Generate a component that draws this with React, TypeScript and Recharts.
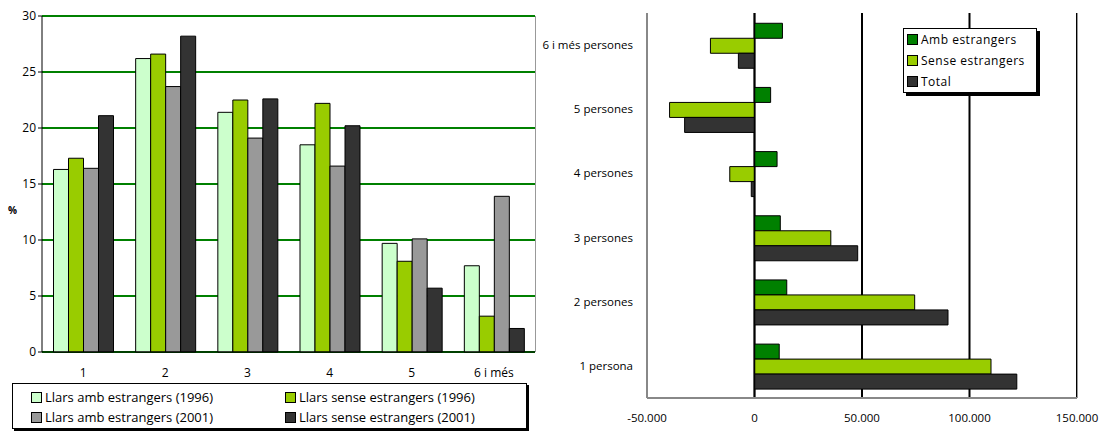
import React from "react";
import { BarChart, Bar, XAxis, YAxis, CartesianGrid, ReferenceLine } from "recharts";

const cats = ["1", "2", "3", "4", "5", "6 i més"];
const amb1996 = [16.3, 26.2, 21.4, 18.5, 9.7, 7.7];
const sense1996 = [17.3, 26.6, 22.5, 22.2, 8.1, 3.2];
const amb2001 = [16.4, 23.7, 19.1, 16.6, 10.1, 13.9];
const sense2001 = [21.1, 28.2, 22.6, 20.2, 5.7, 2.1];
const leftTicks = [0, 5, 10, 15, 20, 25, 30];

const persCats = ["6 i més persones", "5 persones", "4 persones", "3 persones", "2 persones", "1 persona"];
const ambEst = [13000, 7500, 10500, 12000, 15000, 11500];
const senseEst = [-20500, -39500, -11500, 35500, 74500, 110000];
const total = [-7500, -32500, -1500, 48000, 90000, 122000];
const rightTicks = [-50000, 0, 50000, 100000, 150000];

const leftData = cats.map((c, i) => ({ c, a: amb1996[i], b: sense1996[i], d: amb2001[i], e: sense2001[i] }));
const rightData = persCats.map((c, i) => ({ c, a: ambEst[i], s: senseEst[i], t: total[i] }));

const font = "'Open Sans', 'DejaVu Sans', sans-serif";
const fmt = (v: number) => v.toLocaleString("de-DE");
const tick = { fill: "#000", fontSize: 12, fontFamily: font };

const CatTick = (props: any) => {
  const { x, y, payload } = props;
  return (
    <text x={x} y={y} dy={4} textAnchor="end" fill="#000" fontSize={11.5} fontFamily={font}>
      {payload.value}
    </text>
  );
};

const Sw = ({ c }: { c: string }) => (
  <span style={{ display: "inline-block", width: 9, height: 9, background: c, border: "1px solid #000", marginRight: 3, verticalAlign: "-1px" }} />
);

export default function App() {
  return (
    <div style={{ position: "absolute", left: 0, top: 0, width: 1104, height: 432, background: "#fff", fontFamily: font }}>
      <div style={{ position: "absolute", left: 530, top: 0 }}>
        <BarChart layout="vertical" width={574} height={432} data={rightData} margin={{ top: 13, right: 27, left: 0, bottom: 0 }} barGap={0} barCategoryGap="16%">
          <CartesianGrid horizontal={false} stroke="#000" strokeWidth={2} />
          <XAxis type="number" domain={[-50000, 150000]} ticks={rightTicks} tickFormatter={fmt} height={34} tick={{ ...tick, fontSize: 11.5 }} tickLine={false} axisLine={{ stroke: "#888", strokeWidth: 2 }} tickMargin={10} />
          <YAxis type="category" dataKey="c" width={117} tick={<CatTick />} tickLine={false} axisLine={{ stroke: "#888", strokeWidth: 2 }} tickMargin={8} />
          <ReferenceLine x={0} stroke="#000" strokeWidth={1.5} />
          <Bar dataKey="a" fill="#008000" stroke="#000" isAnimationActive={false} />
          <Bar dataKey="s" fill="#99cc00" stroke="#000" isAnimationActive={false} />
          <Bar dataKey="t" fill="#333333" stroke="#000" isAnimationActive={false} />
        </BarChart>
        <div style={{ position: "absolute", left: 547, top: 13, width: 1, height: 385, background: "#999" }} />
        <div style={{ position: "absolute", left: 373, top: 28, width: 134, height: 65, background: "#fff", border: "1px solid #000", boxShadow: "3px 3px 0 #000", fontSize: 12, boxSizing: "border-box", letterSpacing: 0.5 }}>
          <div style={{ position: "absolute", left: 3, top: 2 }}><Sw c="#008000" />Amb estrangers</div>
          <div style={{ position: "absolute", left: 3, top: 23 }}><Sw c="#99cc00" />Sense estrangers</div>
          <div style={{ position: "absolute", left: 3, top: 44 }}><Sw c="#333333" />Total</div>
        </div>
      </div>
      <div style={{ position: "absolute", left: 0, top: 0 }}>
        <BarChart width={545} height={380} data={leftData} margin={{ top: 16, right: 10, left: 0, bottom: 0 }} barGap={0} barCategoryGap="14%">
          <CartesianGrid vertical={false} stroke="#008000" strokeWidth={2} />
          <XAxis dataKey="c" height={28} tick={tick} tickLine={false} axisLine={{ stroke: "#000" }} tickMargin={10} />
          <YAxis width={42} domain={[0, 30]} ticks={leftTicks} tick={tick} axisLine={{ stroke: "#000" }} tickLine={{ stroke: "#000" }} tickSize={4} />
          <Bar dataKey="a" fill="#ccffcc" stroke="#000" isAnimationActive={false} />
          <Bar dataKey="b" fill="#99cc00" stroke="#000" isAnimationActive={false} />
          <Bar dataKey="d" fill="#999999" stroke="#000" isAnimationActive={false} />
          <Bar dataKey="e" fill="#333333" stroke="#000" isAnimationActive={false} />
        </BarChart>
        <div style={{ position: "absolute", left: 535, top: 16, width: 1, height: 336, background: "#999" }} />
        <div style={{ position: "absolute", left: 8, top: 203, fontSize: 10, fontWeight: "bold" }}>%</div>
        <div style={{ position: "absolute", left: 12, top: 383, width: 515, height: 46, border: "1px solid #000", boxShadow: "2px 2px 0 #000", fontSize: 13, boxSizing: "border-box" }}>
          <div style={{ position: "absolute", left: 18, top: 4 }}><Sw c="#ccffcc" />Llars amb estrangers (1996)</div>
          <div style={{ position: "absolute", left: 272, top: 4 }}><Sw c="#99cc00" />Llars sense estrangers (1996)</div>
          <div style={{ position: "absolute", left: 18, top: 24 }}><Sw c="#999999" />Llars amb estrangers (2001)</div>
          <div style={{ position: "absolute", left: 272, top: 24 }}><Sw c="#333333" />Llars sense estrangers (2001)</div>
        </div>
      </div>
    </div>
  );
}
